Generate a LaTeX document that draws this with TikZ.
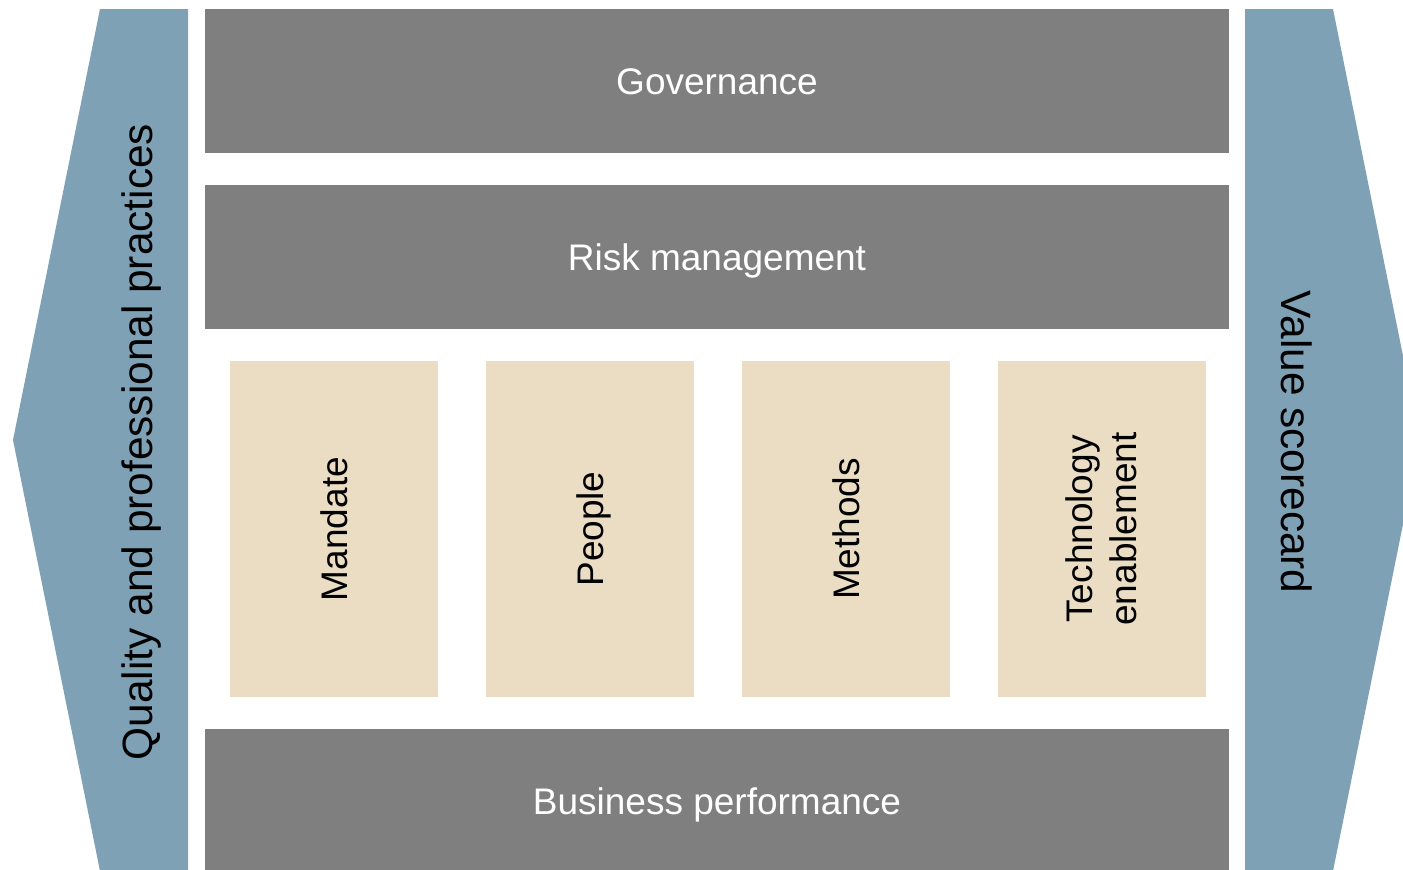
\documentclass[tikz,border=0pt]{standalone}
\usepackage{fontspec}
\setmainfont{Liberation Sans}
\definecolor{bleugris}{RGB}{127,161,181}
\definecolor{gris}{RGB}{127,127,127}
\definecolor{beige}{RGB}{234,221,196}

\begin{document}
\begin{tikzpicture}[x=0.5pt,y=-0.5pt]
%stylesdesblocs
\tikzstyle{barre}=[rectangle,fill=gris,text=white,inner sep=0pt,
minimum width=512pt,minimum height=72pt,text height=13.2pt,text depth=0pt,
font=\fontsize{18.5}{22}\selectfont]
\tikzstyle{pilier}=[rectangle,fill=beige,text=black,inner sep=0pt,rotate=90,
minimum width=168pt,minimum height=104pt,align=center,font=\fontsize{18.5}{22}\selectfont]
\tikzstyle{cote}=[fill=bleugris]
\tikzstyle{textecote}=[inner sep=0pt,text=black,font=\fontsize{21.2}{25}\selectfont]
%cadre
\useasboundingbox (0,0) rectangle (1403,869);
\clip (0,0) rectangle (1403,869);
%flèchesdecôté
\fill[cote] (100,9) -- (188,9) -- (188,871) -- (100,871) -- (13,440) -- cycle;
\fill[cote] (1245,9) -- (1333,9) -- (1420,440) -- (1333,871) -- (1245,871) -- cycle;
\node[textecote,rotate=90] (qualite) at (142,442) {Quality and professional practices};
\node[textecote,rotate=-90] (valeur) at (1297,442) {Value scorecard};
%barres
\node[barre] (gouvernance) at (717,81) {Governance};
\node[barre] (risque) at (717,257) {Risk management};
\node[barre] (performance) at (717,801) {Business performance};
%piliers
\node[pilier] (mandat) at (334,529) {Mandate};
\node[pilier,text height=13.2pt,text depth=0pt] (personnes) at (590,529) {People};
\node[pilier] (methodes) at (846,529) {Methods};
\node[pilier] (technologie) at (1101.5,529) {Technology\\enablement};
\end{tikzpicture}
\end{document}
